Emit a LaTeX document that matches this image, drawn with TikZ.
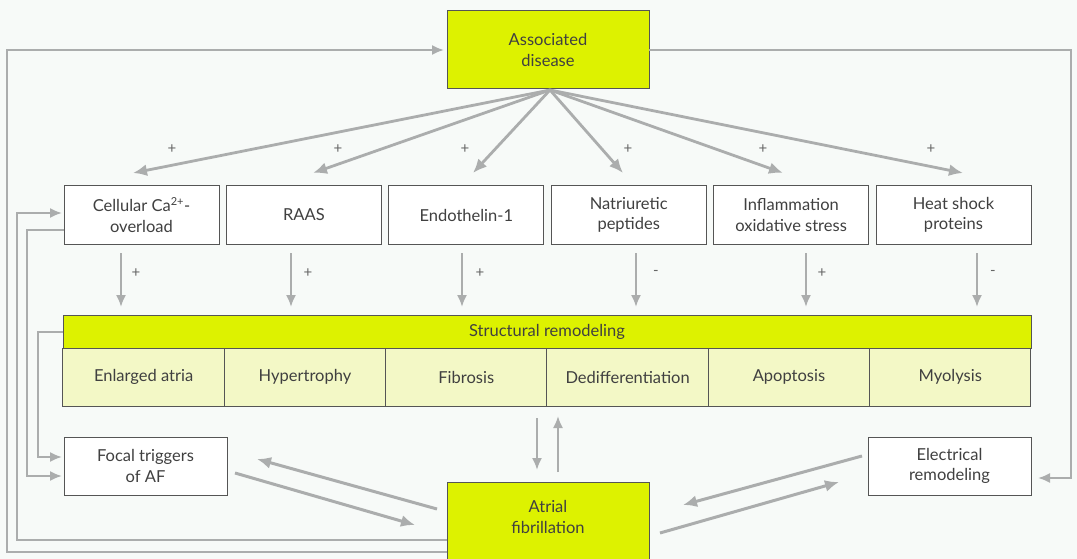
\documentclass[tikz,border=0pt]{standalone}
\usepackage{fontspec}
\setmainfont{Lato}
\usetikzlibrary{arrows.meta,calc}
\definecolor{bgc}{HTML}{F7FAF8}
\definecolor{ylw}{HTML}{DDF200}
\definecolor{lyl}{HTML}{F3F8C6}
\definecolor{arc}{HTML}{ABADAD}
\definecolor{bord}{HTML}{555555}
\definecolor{txc}{HTML}{404040}
\begin{document}
\begin{tikzpicture}[x=1pt,y=-1pt,
  every node/.style={inner sep=0pt, outer sep=0pt},
  fnt/.style={font=\fontsize{16.5}{20.5}\selectfont, text=txc, align=center},
  wbox/.style={fnt, draw=bord, line width=1, fill=white, minimum width=155, minimum height=58},
  ybox/.style={fnt, draw=bord, line width=1, fill=ylw},
  cell/.style={fnt, draw=bord, line width=1, fill=lyl, minimum width=161.33, minimum height=58},
  lbl/.style={font=\fontsize{15}{15}\selectfont, text=black!60},
  conn/.style={draw=arc, line width=2, -{Latex[length=12,width=10]}},
  fan/.style={draw=arc, line width=2.8, -{Latex[length=14,width=12]}},
  diag/.style={draw=arc, line width=3, -{Latex[length=14,width=12]}},
  plain/.style={draw=arc, line width=2}
]
\useasboundingbox (0,0) rectangle (1077,559);
\clip (0,0) rectangle (1077,559);
\fill[bgc] (0,0) rectangle (1077,559);

% top node
\node[ybox, minimum width=202, minimum height=78] (ad) at (548,50) {Associated\\disease};

% row of boxes
\node[wbox] (c1) at (141.5,215) {Cellular Ca\textsuperscript{\fontsize{11}{11}\selectfont 2+}-\\overload};
\node[wbox] (c2) at (303.9,215) {RAAS};
\node[wbox] (c3) at (466.3,215) {Endothelin-1};
\node[wbox] (c4) at (628.7,215) {Natriuretic\\peptides};
\node[wbox] (c5) at (791.1,215) {Inflammation\\oxidative stress};
\node[wbox] (c6) at (953.5,215) {Heat shock\\proteins};

% structural remodeling
\node[ybox, minimum width=968, minimum height=33] (sr) at (547,331.5) {Structural remodeling};
\node[cell] (s1) at (143.65,377) {Enlarged atria};
\node[cell] (s2) at (304.98,377) {Hypertrophy};
\node[cell] (s3) at (466.31,377) {Fibrosis};
\node[cell] (s4) at (627.64,377) {Dedifferentiation};
\node[cell] (s5) at (788.97,377) {Apoptosis};
\node[cell] (s6) at (950.30,377) {Myolysis};

% bottom nodes
\node[wbox, minimum width=163] (ft) at (145.5,466) {Focal triggers\\of AF};
\node[wbox, minimum width=163] (el) at (949.5,466) {Electrical\\remodeling};
\node[ybox, minimum width=202, minimum height=100, anchor=north] (af) at (548,482) {};
\node[fnt] (aft) at (548,517) {Atrial\\fibrillation};

% fan arrows
\coordinate (t1) at (133,173);
\coordinate (t2) at (313,173);
\coordinate (t3) at (473,173);
\coordinate (t4) at (623,173);
\coordinate (t5) at (783,173);
\coordinate (t6) at (963,173);
\foreach \i in {1,...,6} \draw[fan] ($(ad.south)+(2,1)$) -- (t\i);

\node[lbl] (p1) at (172,149) {+};
\node[lbl] (p2) at (338,149) {+};
\node[lbl] (p3) at (465,149) {+};
\node[lbl] (p4) at (628,149) {+};
\node[lbl] (p5) at (763,149) {+};
\node[lbl] (p6) at (931,149) {+};

% vertical arrows to structural remodeling
\draw[conn] ($(c1.south)+(-20.5,9)$) -- ($(c1.south)+(-20.5,63)$);
\draw[conn] ($(c2.south)+(-12.9,9)$) -- ($(c2.south)+(-12.9,63)$);
\draw[conn] ($(c3.south)+(-4.3,9)$) -- ($(c3.south)+(-4.3,63)$);
\draw[conn] ($(c4.south)+(7.3,9)$) -- ($(c4.south)+(7.3,63)$);
\draw[conn] ($(c5.south)+(14.9,9)$) -- ($(c5.south)+(14.9,63)$);
\draw[conn] ($(c6.south)+(23.5,9)$) -- ($(c6.south)+(23.5,63)$);
\node[lbl] (q1) at (136,273) {+};
\node[lbl] (q2) at (308,273) {+};
\node[lbl] (q3) at (480,273) {+};
\node[lbl] (q4) at (656,273) {-};
\node[lbl] (q5) at (822,273) {+};
\node[lbl] (q6) at (993,273) {-};

% structural remodeling <-> AF
\draw[conn] ($(af.north)+(-11,-64)$) -- ($(af.north)+(-11,-12)$);
\draw[conn] ($(af.north)+(10,-10)$) -- ($(af.north)+(10,-66)$);

% focal <-> AF
\draw[diag] ($(af.north west)+(-10,27)$) -- ($(ft.north east)+(30,22)$);
\draw[diag] ($(ft.north east)+(8,36)$) -- ($(af.north west)+(-32,43)$);

% AF <-> electrical
\draw[diag] ($(el.north west)+(-6,19)$) -- ($(af.north east)+(34,23)$);
\draw[diag] ($(af.north east)+(11,51)$) -- ($(el.north west)+(-29,45)$);

% left feedback lines
\draw[conn, shorten >=3] ($(af.north west)+(0,70)$) -- ++(-440,0) |- (ad.west);
\draw[conn, shorten >=2] ($(af.north west)+(0,58)$) -- ++(-430,0) |- ($(c1.west)+(0,-2)$);
\draw[conn, shorten >=2] ($(c1.west)+(0,15)$) -- ++(-37,0) |- ($(ft.west)+(0,10)$);
\draw[conn, shorten >=2] (sr.west) -- ++(-25,0) |- ($(ft.west)+(0,-9)$);

% right feedback line
\draw[conn, shorten >=7] (ad.east) -- ++(422,0) |- ($(el.east)+(0,12)$);
\end{tikzpicture}
\end{document}
